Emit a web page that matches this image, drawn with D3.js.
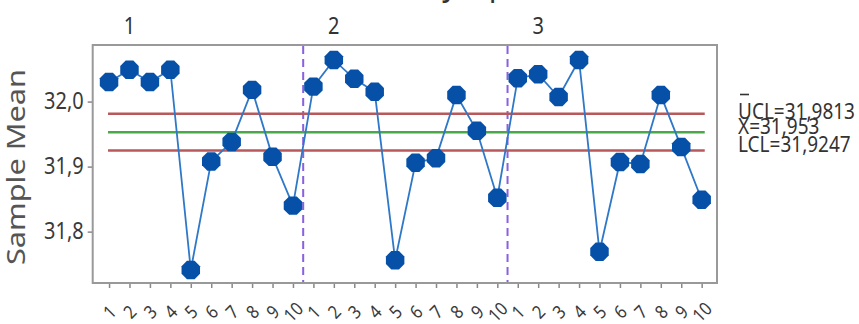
<!DOCTYPE html>
<html>
<head>
<meta charset="utf-8">
<script src="https://cdn.jsdelivr.net/npm/d3@7"></script>
<style>
  body { margin: 0; background: #fff; }
  svg text { font-family: "Noto Sans", "Open Sans", sans-serif; }
</style>
</head>
<body>
<div id="chart"><svg></svg></div>
<script>
// subgroup means, 3 operators x 10 samples
var sampleIds = d3.range(1, 31);
var groupLabels = ["1", "2", "3"];
var sampleMeans = [
  32.030, 32.049, 32.030, 32.049, 31.741, 31.908, 31.938, 32.018, 31.915, 31.840,
  32.023, 32.064, 32.035, 32.015, 31.756, 31.906, 31.913, 32.010, 31.955, 31.852,
  32.036, 32.042, 32.007, 32.064, 31.769, 31.907, 31.904, 32.010, 31.930, 31.849
];
var yTicks = [31.8, 31.9, 32.0];
var limitNames = ["UCL", "X", "LCL"];
var limitValues = [31.9813, 31.953, 31.9247];
var limitLabels = ["UCL=31,9813", "X=31,953", "LCL=31,9247"];

var width = 859, height = 324;
var plotLeft = 92.7, plotRight = 717, plotTop = 45, plotBottom = 283;
var stretch = 1.15; // text in the original looks a bit tall

var svg = d3.select("#chart svg").attr("width", width).attr("height", height);
svg.append("rect").attr("width", width).attr("height", height).attr("fill", "#fff");

var x = d3.scaleLinear().domain([0.2, 30.75]).range([plotLeft, plotRight]);
var y = d3.scaleLinear().domain([31.721, 32.087]).range([plotBottom, plotTop]);

var comma = function(d) { return d3.format(".1f")(d).replace(".", ","); };

// title, mostly cut off at the top edge
svg.append("text")
  .attr("transform", "translate(430,-5) scale(1," + stretch + ")")
  .attr("text-anchor", "middle")
  .attr("font-size", 30)
  .attr("fill", "#333")
  .text("Xbar Chart by Operator");

// y axis
var yAxis = svg.append("g")
  .attr("transform", "translate(" + plotLeft + ",0)")
  .call(d3.axisLeft(y).tickValues(yTicks).tickFormat(comma).tickSize(5).tickSizeOuter(0));
yAxis.select(".domain").remove();
yAxis.selectAll("line").attr("stroke", "#888").attr("stroke-width", 1.5);
yAxis.selectAll("text")
  .attr("font-size", 20)
  .attr("fill", "#3a3a3a")
  .attr("x", -9)
  .attr("transform", "scale(1," + stretch + ")");

// x axis
var xAxis = svg.append("g")
  .attr("transform", "translate(0," + plotBottom + ")")
  .call(d3.axisBottom(x).tickValues(sampleIds)
    .tickFormat(function(d) { return ((d - 1) % 10) + 1; })
    .tickSize(5).tickSizeOuter(0));
xAxis.select(".domain").remove();
xAxis.selectAll("line").attr("stroke", "#888").attr("stroke-width", 1.5);
xAxis.selectAll("text")
  .attr("font-size", 16)
  .attr("fill", "#3a3a3a")
  .attr("text-anchor", "middle")
  .attr("y", 0)
  .attr("dy", "0.35em")
  .attr("transform", "translate(0,29) rotate(-45) scale(1," + stretch + ")");

// frame
svg.append("rect")
  .attr("x", plotLeft).attr("y", plotTop)
  .attr("width", plotRight - plotLeft).attr("height", plotBottom - plotTop)
  .attr("fill", "none").attr("stroke", "#999").attr("stroke-width", 2);

// y label
svg.append("text")
  .attr("transform", "translate(25,167) rotate(-90) scale(1.18,1)")
  .attr("text-anchor", "middle")
  .attr("font-size", 26)
  .attr("fill", "#555")
  .text("Sample Mean");

// group separators and labels
svg.selectAll(".sep")
  .data([10.5, 20.5])
  .enter().append("line")
    .attr("class", "sep")
    .attr("x1", function(d) { return x(d); })
    .attr("x2", function(d) { return x(d); })
    .attr("y1", plotTop + 1).attr("y2", plotBottom - 1)
    .attr("stroke", "#8a5fe0").attr("stroke-width", 2)
    .attr("stroke-dasharray", "8,5");

svg.selectAll(".grp")
  .data(groupLabels)
  .enter().append("text")
    .attr("class", "grp")
    .attr("transform", function(d, i) { return "translate(" + x(i * 10 + 2) + ",34) scale(1," + stretch + ")"; })
    .attr("text-anchor", "middle")
    .attr("font-size", 20)
    .attr("fill", "#333")
    .text(function(d) { return d; });

// control limits
var limitColor = { UCL: "#b8585a", X: "#4aa84a", LCL: "#b8585a" };
svg.selectAll(".limit")
  .data(limitValues)
  .enter().append("line")
    .attr("class", "limit")
    .attr("x1", x(0.95)).attr("x2", x(30.15))
    .attr("y1", function(d) { return y(d); })
    .attr("y2", function(d) { return y(d); })
    .attr("stroke", function(d, i) { return limitColor[limitNames[i]]; })
    .attr("stroke-width", 2.5);

// series line
var line = d3.line()
  .x(function(d, i) { return x(sampleIds[i]); })
  .y(function(d) { return y(d); });

svg.append("path")
  .datum(sampleMeans)
  .attr("d", line)
  .attr("fill", "none")
  .attr("stroke", "#2f78c8")
  .attr("stroke-width", 1.8);

// octagon markers
var octagon = d3.line()(d3.range(8).map(function(k) {
  var a = Math.PI / 8 + k * Math.PI / 4;
  return [10 * Math.cos(a), 10 * Math.sin(a)];
})) + "Z";

svg.selectAll(".pt")
  .data(sampleMeans)
  .enter().append("path")
    .attr("class", "pt")
    .attr("d", octagon)
    .attr("transform", function(d, i) { return "translate(" + x(sampleIds[i]) + "," + y(d) + ")"; })
    .attr("fill", "#0650a8");

// limit labels on the right, squeezed together like the original
var legendBase = [119, 134, 152];
svg.selectAll(".lbl")
  .data(limitLabels)
  .enter().append("text")
    .attr("class", "lbl")
    .attr("transform", function(d, i) { return "translate(738," + legendBase[i] + ") scale(1," + stretch + ")"; })
    .attr("font-size", 19)
    .attr("fill", "#333")
    .text(function(d) { return d; });

// the bar of the X-double-bar symbol sits above the U
svg.append("line")
  .attr("x1", 740).attr("x2", 749)
  .attr("y1", 94.5).attr("y2", 94.5)
  .attr("stroke", "#333").attr("stroke-width", 1.6);
</script>
</body>
</html>
